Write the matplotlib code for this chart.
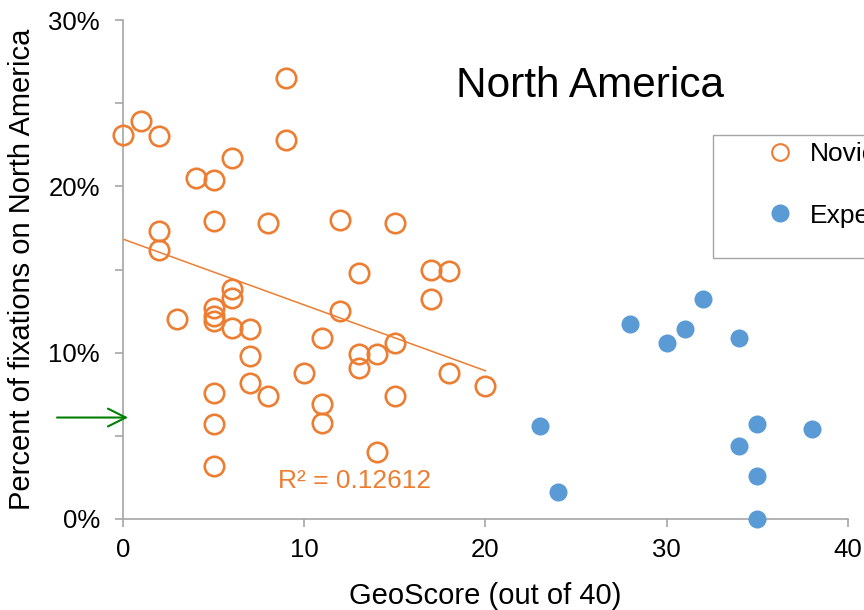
import matplotlib
matplotlib.use('Agg')
import matplotlib.pyplot as plt
from matplotlib.lines import Line2D
from matplotlib.patches import Rectangle
from matplotlib.ticker import MultipleLocator, FuncFormatter
import numpy as np

ORANGE = '#ED7D31'
BLUE = '#5B9BD5'
GRAY = '#A6A6A6'

# Novice: GeoScore vs percent of fixations on North America
novice_score = [0, 1, 2, 9, 9, 4, 5, 6, 2, 2, 5, 8, 12, 15, 13, 17, 18, 17, 12,
                6, 6, 3, 5, 5, 5, 6, 7, 11, 13, 14, 15, 7, 13, 10, 18, 20, 7,
                8, 5, 15, 11, 11, 5, 14, 5]
novice_pct = [23.1, 23.9, 23.0, 26.5, 22.8, 20.5, 20.4, 21.7, 17.3, 16.2, 17.9,
              17.8, 18.0, 17.8, 14.8, 15.0, 14.9, 13.2, 12.5, 13.8, 13.3, 12.0,
              12.7, 12.2, 11.9, 11.5, 11.4, 10.9, 9.9, 9.9, 10.6, 9.8, 9.1, 8.8,
              8.8, 8.0, 8.2, 7.4, 7.6, 7.4, 6.9, 5.8, 5.7, 4.0, 3.2]

# Expert
expert_score = [28, 30, 31, 32, 34, 23, 24, 35, 38, 34, 35, 35]
expert_pct = [11.7, 10.6, 11.4, 13.2, 10.9, 5.6, 1.6, 5.7, 5.4, 4.4, 2.6, 0.0]

r2_label = 'R² = 0.12612'
title = 'North America'


def main():
    plt.rcParams['font.family'] = ['Liberation Sans', 'DejaVu Sans']

    fig = plt.figure(figsize=(8.64, 6.10), dpi=100)
    W, H = 864, 610
    ax = fig.add_axes([123 / W, 1 - 519 / H, 725 / W, 499 / H])

    # Linear trendline for novices
    slope, intercept = np.polyfit(novice_score, novice_pct, 1)
    tx = np.array([0, max(novice_score)])
    ax.plot(tx, intercept + slope * tx, color=ORANGE, lw=1.1, zorder=2)

    ax.plot(novice_score, novice_pct, 'o', ms=14, mfc='none', mec=ORANGE,
            mew=1.9, zorder=3, clip_on=False)
    ax.plot(expert_score, expert_pct, 'o', ms=13, mfc=BLUE, mec=BLUE,
            mew=0, zorder=3, clip_on=False)

    ax.set_xlim(0, 40)
    ax.set_ylim(0, 30)
    ax.xaxis.set_major_locator(MultipleLocator(10))
    ax.yaxis.set_major_locator(MultipleLocator(10))
    ax.yaxis.set_minor_locator(MultipleLocator(5))
    ax.yaxis.set_major_formatter(FuncFormatter(lambda v, p: f'{v:.0f}%'))

    for side in ['top', 'right']:
        ax.spines[side].set_visible(False)
    for side in ['left', 'bottom']:
        ax.spines[side].set_color(GRAY)
        ax.spines[side].set_linewidth(1.2)
    ax.tick_params(which='both', direction='out', length=5.5, width=1.2,
                   color=GRAY, labelsize=18.5, labelcolor='black')
    ax.tick_params(axis='y', pad=11)
    ax.tick_params(axis='x', pad=8)

    ax.set_xlabel('GeoScore (out of 40)', fontsize=21)
    ax.set_ylabel('Percent of fixations on North America', fontsize=21)
    ax.xaxis.set_label_coords(0.5, -0.154)
    ax.xaxis.label.set_va('center')
    ax.yaxis.set_label_coords(-0.139, 0.5)
    ax.yaxis.label.set_va('center')

    ax.text(25.74, 25.38, title, fontsize=30.5, ha='center', va='baseline')
    ax.text(8.55, 1.86, r2_label, fontsize=19, color=ORANGE, ha='left',
            va='baseline')

    # green pointer arrow
    ax.annotate('', xy=(0.28, 6.1), xytext=(-3.64, 6.1),
                arrowprops=dict(arrowstyle='->', color='green', lw=1.5,
                                mutation_scale=32, shrinkA=0, shrinkB=0),
                annotation_clip=False)

    # legend (cut off at right edge like the source)
    fig.patches.append(Rectangle((713 / W, 1 - 258 / H), 300 / W, 123 / H,
                                 transform=fig.transFigure, fill=False,
                                 edgecolor=GRAY, lw=1.0))
    handles = [
        Line2D([], [], ls='none', marker='o', ms=12, mfc='none', mec=ORANGE,
               mew=1.5),
        Line2D([], [], ls='none', marker='o', ms=12, mfc=BLUE, mec=BLUE),
    ]
    fig.legend(handles, ['Novice', 'Expert'], loc='upper left',
               bbox_to_anchor=(767 / W, 1 - 142 / H), frameon=False,
               fontsize=19, labelspacing=1.43, handlelength=1.0,
               handletextpad=0.64, borderpad=0, borderaxespad=0)

    fig.savefig('out.png', dpi=100)


if __name__ == '__main__':
    main()
